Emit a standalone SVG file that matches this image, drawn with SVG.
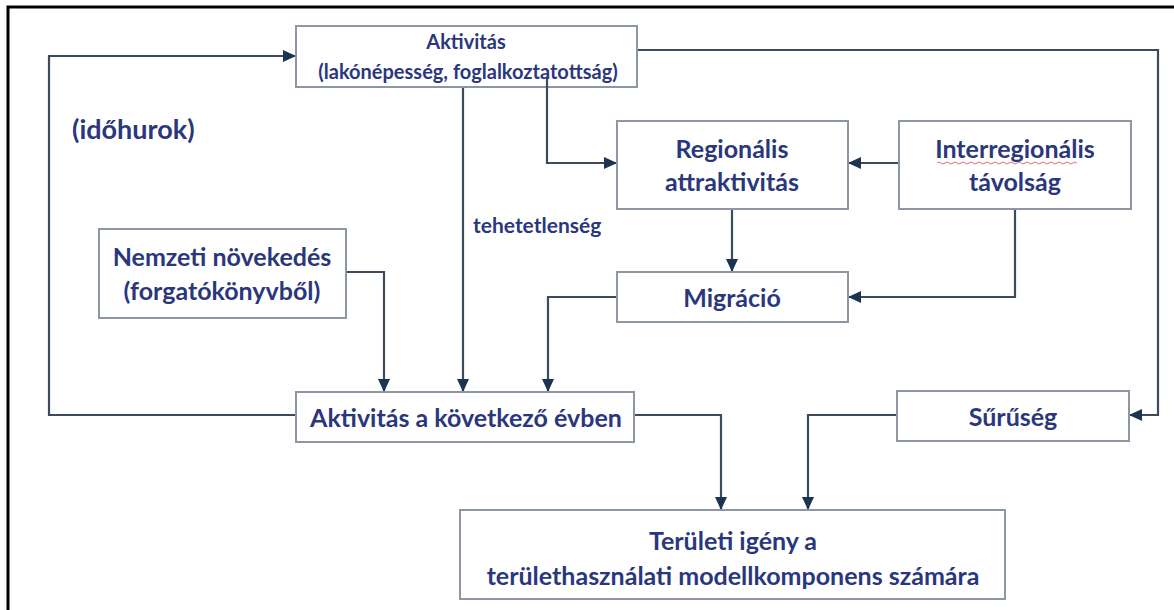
<svg xmlns="http://www.w3.org/2000/svg" width="1174" height="610" viewBox="0 0 1174 610">
  <style>
    .box { fill: #ffffff; stroke: #8c96a4; stroke-width: 2; }
    .lbl { font-family: Lato, "Open Sans", "Liberation Sans", sans-serif; font-weight: bold; fill: #2a377c; text-anchor: middle; dominant-baseline: central; }
    .big { font-size: 25px; }
    .small { font-size: 20px; }
    .wire { fill: none; stroke: #3e4b5e; stroke-width: 2.2; marker-end: url(#arrow); }
  </style>
  <defs>
    <marker id="arrow" markerUnits="userSpaceOnUse" markerWidth="14" markerHeight="14" refX="13" refY="7" orient="auto">
      <path d="M0,1 L13,7 L0,13 Z" fill="#1c3352"/>
    </marker>
  </defs>

  <rect width="1174" height="610" fill="#ffffff"/>
  <!-- frame -->
  <path d="M8,610 V7 H1174" fill="none" stroke="#000000" stroke-width="3"/>

  <!-- connectors -->
  <g id="connectors">
    <path class="wire" d="M296,415 H49 V56 H296"/>
    <path class="wire" d="M463,87 V392"/>
    <path class="wire" d="M547,78 V163 H617"/>
    <path class="wire" d="M637,50 H1158 V415 H1129"/>
    <path class="wire" d="M899,163 H848"/>
    <path class="wire" d="M732,209 V272"/>
    <path class="wire" d="M1015,209 V297 H848"/>
    <path class="wire" d="M617,297 H548 V392"/>
    <path class="wire" d="M346,272 H384 V392"/>
    <path class="wire" d="M634,415 H721 V510"/>
    <path class="wire" d="M897,415 H808 V510"/>
  </g>

  <g id="activity">
    <rect class="box" x="296" y="26" width="341" height="61"/>
    <text class="lbl small" x="466" y="41">Aktivitás</text>
    <text class="lbl small" x="468" y="71">(lakónépesség, foglalkoztatottság)</text>
  </g>
  <!-- the vertical wire to the attraction box starts inside the activity box -->
  <path d="M547,78 V88" stroke="#3e4b5e" stroke-width="2.2"/>

  <g id="time-loop">
    <text class="lbl" x="72" y="128" style="text-anchor:start;font-size:27px">(időhurok)</text>
  </g>

  <g id="inertia">
    <text class="lbl" x="473" y="224" style="text-anchor:start;font-size:21px">tehetetlenség</text>
  </g>

  <g id="regional-attraction">
    <rect class="box" x="617" y="121" width="231" height="88"/>
    <text class="lbl big" x="732" y="148">Regionális</text>
    <text class="lbl big" x="732" y="181">attraktivitás</text>
  </g>

  <g id="interregional-distance">
    <rect class="box" x="899" y="121" width="232" height="88"/>
    <text class="lbl big" x="1015" y="148">Interregionális</text>
    <path d="M937,163 q2,-2 4,0 t4,0 t4,0 t4,0 t4,0 t4,0 t4,0 t4,0 t4,0 t4,0 t4,0 t4,0 t4,0 t4,0 t4,0 t4,0 t4,0 t4,0 t4,0 t4,0 t4,0 t4,0 t4,0 t4,0 t4,0 t4,0 t4,0 t4,0 t4,0 t4,0 t4,0 t4,0 t4,0 t4,0 t4,0" fill="none" stroke="#e07070" stroke-width="1"/>
    <text class="lbl big" x="1015" y="181">távolság</text>
  </g>

  <g id="national-growth">
    <rect class="box" x="99" y="229" width="247" height="89"/>
    <text class="lbl big" x="222" y="256">Nemzeti növekedés</text>
    <text class="lbl big" x="222" y="290">(forgatókönyvből)</text>
  </g>

  <g id="migration">
    <rect class="box" x="617" y="272" width="231" height="50"/>
    <text class="lbl big" x="732" y="297">Migráció</text>
  </g>

  <g id="activity-next-year">
    <rect class="box" x="296" y="392" width="338" height="50"/>
    <text class="lbl big" x="466" y="417">Aktivitás a következő évben</text>
  </g>

  <g id="density">
    <rect class="box" x="897" y="391" width="232" height="50"/>
    <text class="lbl big" x="1013" y="416">Sűrűség</text>
  </g>

  <g id="land-demand">
    <rect class="box" x="460" y="510" width="545" height="89"/>
    <text class="lbl big" x="733" y="540">Területi igény a</text>
    <text class="lbl big" x="733" y="575">területhasználati modellkomponens számára</text>
  </g>
</svg>
